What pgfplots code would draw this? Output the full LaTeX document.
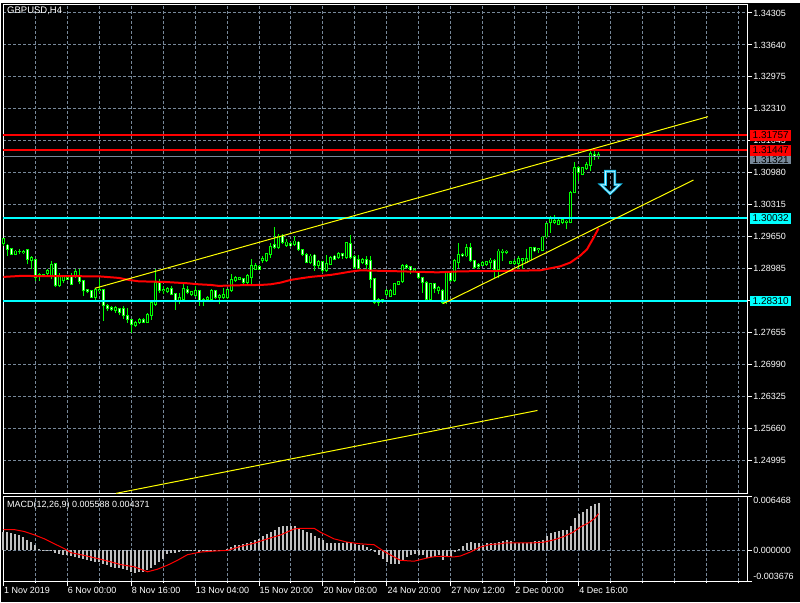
\documentclass[border=0pt]{standalone}
\usepackage{fontspec}
\setmainfont{Liberation Sans}
\usepackage{pgfplots}
\usepackage{pgfplotstable}
\pgfplotsset{compat=1.18}
\definecolor{mtgrid}{RGB}{119,136,153}
\definecolor{mtgreen}{RGB}{0,255,0}
\definecolor{mtsilver}{RGB}{192,192,192}
\definecolor{mtcyan}{RGB}{0,255,255}
\definecolor{mtred}{RGB}{255,0,0}
\definecolor{mtyellow}{RGB}{255,255,0}
\definecolor{arrowout}{RGB}{20,190,235}
\definecolor{arrowin}{RGB}{200,245,255}
\newcommand\lab{\fontsize{9}{10.8}\selectfont}
\newcommand\boxlab{\fontsize{10}{12}\selectfont}

\pgfdeclareplotmark{dnarrow}{%
 \pgfpathmoveto{\pgfpoint{-4.7pt}{11.2pt}}%
 \pgfpathlineto{\pgfpoint{4.7pt}{11.2pt}}%
 \pgfpathlineto{\pgfpoint{4.7pt}{-2.2pt}}%
 \pgfpathlineto{\pgfpoint{9.4pt}{-2.2pt}}%
 \pgfpathlineto{\pgfpoint{0pt}{-11.2pt}}%
 \pgfpathlineto{\pgfpoint{-9.4pt}{-2.2pt}}%
 \pgfpathlineto{\pgfpoint{-4.7pt}{-2.2pt}}%
 \pgfpathclose
 \pgfusepathqstroke}

\pgfplotstableread{
i lo bl bh hi t
0 1.29456 1.29512 1.29608 1.29629 0
1 1.29248 1.29387 1.29477 1.29491 1
2 1.29269 1.29283 1.29401 1.29421 1
3 1.29262 1.29283 1.29352 1.29373 0
4 1.29283 1.29331 1.29345 1.29401 0
5 1.29283 1.29318 1.29345 1.29373 0
6 1.29075 1.29179 1.29387 1.29401 1
7 1.28971 1.29158 1.29214 1.29248 0
8 1.28729 1.28798 1.29179 1.29193 1
9 1.28729 1.28833 1.28867 1.28902 0
10 1.28812 1.28833 1.28867 1.28881 1
11 1.28853 1.28888 1.28950 1.28971 0
12 1.28763 1.28833 1.29075 1.29145 0
13 1.28611 1.28625 1.29096 1.29110 1
14 1.28611 1.28625 1.28833 1.28902 0
15 1.28694 1.28729 1.28819 1.28847 0
16 1.28743 1.28763 1.28798 1.28833 1
17 1.28639 1.28660 1.28833 1.28902 1
18 1.28798 1.28833 1.28916 1.28971 0
19 1.28660 1.28715 1.28833 1.28971 1
20 1.28417 1.28521 1.28729 1.28750 1
21 1.28472 1.28507 1.28542 1.28569 1
22 1.28369 1.28382 1.28521 1.28542 1
23 1.28313 1.28382 1.28556 1.28590 0
24 1.28486 1.28521 1.28556 1.28763 0
25 1.27897 1.28209 1.28542 1.28556 1
26 1.28105 1.28154 1.28223 1.28244 1
27 1.28105 1.28126 1.28175 1.28209 1
28 1.28071 1.28105 1.28175 1.28209 0
29 1.28015 1.28071 1.28154 1.28175 1
30 1.27932 1.28001 1.28154 1.28209 1
31 1.27863 1.27918 1.28001 1.28175 1
32 1.27655 1.27814 1.27918 1.27946 1
33 1.27780 1.27807 1.27863 1.27891 0
34 1.27842 1.27863 1.27932 1.27960 0
35 1.27849 1.27863 1.27932 1.27960 1
36 1.27849 1.27863 1.28036 1.28071 0
37 1.27918 1.28015 1.28278 1.28292 0
38 1.28209 1.28244 1.28694 1.28971 0
39 1.28486 1.28521 1.28694 1.28763 1
40 1.28452 1.28521 1.28556 1.28625 0
41 1.28472 1.28500 1.28576 1.28604 0
42 1.28431 1.28452 1.28569 1.28625 1
43 1.28126 1.28313 1.28466 1.28486 1
44 1.28244 1.28313 1.28382 1.28486 0
45 1.28334 1.28348 1.28569 1.28660 0
46 1.28452 1.28486 1.28556 1.28625 1
47 1.28417 1.28438 1.28500 1.28521 0
48 1.28403 1.28417 1.28521 1.28625 0
49 1.28209 1.28313 1.28521 1.28535 1
50 1.28209 1.28313 1.28348 1.28376 0
51 1.28313 1.28334 1.28382 1.28417 0
52 1.28334 1.28348 1.28521 1.28556 0
53 1.28362 1.28382 1.28521 1.28535 1
54 1.28244 1.28382 1.28431 1.28452 0
55 1.28362 1.28382 1.28452 1.28590 0
56 1.28362 1.28382 1.28542 1.28556 0
57 1.28500 1.28521 1.28763 1.28867 0
58 1.28708 1.28729 1.28798 1.28833 0
59 1.28743 1.28763 1.28798 1.28819 0
60 1.28673 1.28694 1.28777 1.28798 1
61 1.28660 1.28694 1.28833 1.28867 0
62 1.28660 1.28798 1.29041 1.29179 0
63 1.28950 1.28971 1.29041 1.29110 0
64 1.28950 1.28971 1.29027 1.29054 1
65 1.29110 1.29145 1.29193 1.29248 0
66 1.29124 1.29145 1.29304 1.29318 0
67 1.29214 1.29283 1.29442 1.29525 0
68 1.29387 1.29421 1.29491 1.29858 1
69 1.29387 1.29421 1.29664 1.29699 0
70 1.29505 1.29525 1.29664 1.29699 1
71 1.29442 1.29470 1.29539 1.29595 0
72 1.29442 1.29456 1.29512 1.29539 1
73 1.29456 1.29491 1.29560 1.29664 0
74 1.29352 1.29387 1.29539 1.29560 1
75 1.29248 1.29283 1.29387 1.29401 1
76 1.29096 1.29110 1.29283 1.29304 1
77 1.29075 1.29110 1.29248 1.29283 0
78 1.28937 1.29041 1.29269 1.29283 1
79 1.29006 1.29054 1.29124 1.29165 0
80 1.28902 1.28937 1.29124 1.29145 1
81 1.28916 1.28937 1.29096 1.29262 0
82 1.29054 1.29075 1.29214 1.29248 0
83 1.29158 1.29179 1.29248 1.29269 1
84 1.29193 1.29214 1.29304 1.29331 0
85 1.29193 1.29248 1.29304 1.29318 1
86 1.29193 1.29214 1.29525 1.29539 0
87 1.29193 1.29214 1.29512 1.29692 1
88 1.28971 1.29006 1.29234 1.29262 1
89 1.28971 1.28985 1.29179 1.29276 1
90 1.29075 1.29110 1.29179 1.29214 0
91 1.28971 1.29075 1.29179 1.29248 1
92 1.28590 1.28763 1.29145 1.29248 1
93 1.28244 1.28278 1.28777 1.28798 1
94 1.28209 1.28278 1.28334 1.28382 0
95 1.28265 1.28292 1.28334 1.28362 0
96 1.28417 1.28452 1.28521 1.28556 0
97 1.28389 1.28403 1.28521 1.28556 0
98 1.28431 1.28452 1.28673 1.28694 0
99 1.28639 1.28660 1.28708 1.28729 0
100 1.28694 1.28708 1.29054 1.29075 0
101 1.28985 1.29006 1.29054 1.29075 1
102 1.28867 1.28957 1.29020 1.29041 1
103 1.28916 1.28937 1.28971 1.28992 0
104 1.28763 1.28798 1.28902 1.28937 1
105 1.28486 1.28694 1.28798 1.28819 1
106 1.28320 1.28334 1.28694 1.28729 1
107 1.28313 1.28334 1.28673 1.28694 0
108 1.28486 1.28576 1.28673 1.28694 1
109 1.28452 1.28521 1.28590 1.28625 0
110 1.28244 1.28278 1.28521 1.28556 1
111 1.28244 1.28292 1.28916 1.28930 0
112 1.28708 1.28729 1.28916 1.28937 1
113 1.28708 1.28729 1.29145 1.29179 0
114 1.29006 1.29110 1.29283 1.29525 0
115 1.29228 1.29248 1.29283 1.29318 1
116 1.29228 1.29248 1.29421 1.29491 0
117 1.29124 1.29145 1.29421 1.29525 1
118 1.28985 1.29006 1.29145 1.29165 1
119 1.28985 1.29027 1.29075 1.29110 1
120 1.29041 1.29054 1.29110 1.29145 0
121 1.29041 1.29075 1.29124 1.29145 0
122 1.28971 1.29110 1.29165 1.29214 0
123 1.28798 1.28971 1.29145 1.29179 1
124 1.28798 1.28971 1.29352 1.29387 0
125 1.29145 1.29318 1.29352 1.29387 0
126 1.29283 1.29318 1.29352 1.29373 0
127 1.29075 1.29096 1.29124 1.29145 0
128 1.29054 1.29096 1.29124 1.29179 0
129 1.28971 1.29096 1.29193 1.29248 0
130 1.28971 1.29145 1.29193 1.29214 0
131 1.29096 1.29110 1.29193 1.29401 0
132 1.29151 1.29165 1.29415 1.29428 0
133 1.29331 1.29352 1.29421 1.29435 1
134 1.29318 1.29373 1.29401 1.29421 0
135 1.29345 1.29359 1.29643 1.29664 0
136 1.29629 1.29643 1.29927 1.29941 0
137 1.29733 1.29941 1.30045 1.30080 0
138 1.29906 1.29955 1.29996 1.30093 0
139 1.29886 1.29906 1.29996 1.30010 0
140 1.29906 1.29955 1.30010 1.30045 0
141 1.29802 1.29941 1.29976 1.29996 0
142 1.29927 1.29941 1.30564 1.30599 0
143 1.30551 1.30564 1.31084 1.31202 0
144 1.30807 1.30980 1.31084 1.31119 1
145 1.30925 1.30945 1.31084 1.31105 0
146 1.31036 1.31063 1.31153 1.31202 0
147 1.31015 1.31132 1.31375 1.31430 0
148 1.31243 1.31326 1.31361 1.31430 1
149 1.31257 1.31320 1.31361 1.31410 0
}\candles

\pgfplotstableread{
i h
0 0.00224
1 0.00216
2 0.00208
3 0.00196
4 0.00184
5 0.00157
6 0.00129
7 0.00098
8 0.00059
9 0.00020
10 0.00004
11 -0.00004
12 -0.00012
13 -0.00027
14 -0.00039
15 -0.00059
16 -0.00059
17 -0.00067
18 -0.00078
19 -0.00090
20 -0.00098
21 -0.00118
22 -0.00129
23 -0.00137
24 -0.00137
25 -0.00157
26 -0.00176
27 -0.00196
28 -0.00208
29 -0.00208
30 -0.00216
31 -0.00235
32 -0.00255
33 -0.00274
34 -0.00263
35 -0.00255
36 -0.00235
37 -0.00208
38 -0.00176
39 -0.00137
40 -0.00098
41 -0.00039
42 -0.00027
43 -0.00031
44 -0.00020
45 -0.00010
46 -0.00008
47 -0.00012
48 -0.00010
49 -0.00016
50 -0.00010
51 -0.00006
52 -0.00008
53 -0.00006
54 -0.00004
55 -0.00002
56 0.00012
57 0.00039
58 0.00059
59 0.00067
60 0.00078
61 0.00090
62 0.00098
63 0.00118
64 0.00137
65 0.00176
66 0.00196
67 0.00216
68 0.00247
69 0.00274
70 0.00286
71 0.00286
72 0.00286
73 0.00286
74 0.00263
75 0.00247
76 0.00224
77 0.00208
78 0.00176
79 0.00145
80 0.00118
81 0.00090
82 0.00090
83 0.00090
84 0.00090
85 0.00090
86 0.00098
87 0.00090
88 0.00078
89 0.00067
90 0.00059
91 0.00039
92 0.00012
93 -0.00020
94 -0.00059
95 -0.00098
96 -0.00137
97 -0.00157
98 -0.00157
99 -0.00157
100 -0.00118
101 -0.00078
102 -0.00059
103 -0.00039
104 -0.00059
105 -0.00059
106 -0.00090
107 -0.00078
108 -0.00078
109 -0.00059
110 -0.00118
111 -0.00078
112 -0.00078
113 -0.00020
114 0.00020
115 0.00051
116 0.00090
117 0.00098
118 0.00086
119 0.00086
120 0.00059
121 0.00086
122 0.00086
123 0.00086
124 0.00098
125 0.00106
126 0.00118
127 0.00106
128 0.00090
129 0.00090
130 0.00090
131 0.00090
132 0.00098
133 0.00106
134 0.00106
135 0.00129
136 0.00169
137 0.00208
138 0.00216
139 0.00235
140 0.00247
141 0.00247
142 0.00294
143 0.00380
144 0.00431
145 0.00459
146 0.00498
147 0.00529
148 0.00557
149 0.00559
}\macd

\begin{document}
\begin{tikzpicture}
\fill[black] (0pt,0pt) rectangle (800pt,600pt);

\begin{axis}[
  at={(2pt,109pt)}, anchor=south west, scale only axis,
  width=745pt, height=489pt,
  xmin=-0.075, xmax=186.175, ymin=1.24309, ymax=1.34471,
  clip=false,
  axis line style={white, line width=1pt},
  xtick={16,32,...,176}, minor xtick={8,24,...,184}, xticklabels={},
  xtick style={draw=none}, minor x tick style={draw=none},
  ytick={1.24995,1.25660,1.26325,1.26990,1.27655,1.28985,1.29650,1.30315,1.30980,1.31645,1.32310,1.32975,1.33640,1.34305},
  extra y ticks={1.28320}, extra y tick labels={},
  ytick pos=right, yticklabel pos=right, tick align=outside,
  major tick length=5pt,
  ytick style={white, line width=1pt},
  xmajorgrids, xminorgrids, ymajorgrids,
  major grid style={draw=mtgrid, dash pattern=on 3pt off 2pt, line width=1pt},
  minor grid style={draw=mtgrid, dash pattern=on 3pt off 2pt, line width=1pt},
  scaled y ticks=false,
  yticklabel style={white, font=\lab, anchor=west, inner sep=0pt, xshift=1pt,
    /pgf/number format/.cd, fixed, fixed zerofill, precision=5, assume math mode=true},
]
% wicks
\addplot[draw=none, forget plot, error bars/.cd, y dir=plus, y explicit, error mark=none,
  error bar style={draw=mtgreen, line width=1pt}]
  table[x=i, y=lo, y error expr={\thisrow{hi}-\thisrow{lo}}] {\candles};
% body frames
\addplot[draw=none, forget plot, error bars/.cd, y dir=plus, y explicit, error mark=none,
  error bar style={draw=mtgreen, line width=3pt}]
  table[x=i, y expr={\thisrow{bl}-0.0001}, y error expr={\thisrow{bh}-\thisrow{bl}+0.0002}] {\candles};
% bear bodies (white)
\addplot[draw=none, forget plot, restrict expr to domain={\thisrow{t}}{0.5:1.5},
  error bars/.cd, y dir=plus, y explicit, error mark=none,
  error bar style={draw=white, line width=1pt}]
  table[x=i, y expr={\thisrow{bl}+0.0001}, y error expr={max(\thisrow{bh}-\thisrow{bl}-0.0002,0)}] {\candles};
% bull bodies (black)
\addplot[draw=none, forget plot, restrict expr to domain={\thisrow{t}}{-0.5:0.5},
  error bars/.cd, y dir=plus, y explicit, error mark=none,
  error bar style={draw=black, line width=1pt}]
  table[x=i, y expr={\thisrow{bl}+0.0001}, y error expr={max(\thisrow{bh}-\thisrow{bl}-0.0002,0)}] {\candles};

% moving average
\addplot[mtred, line width=2pt] coordinates {
(0,1.28813) (4.2,1.28833) (23.9,1.28825) (28.9,1.28792) (31.4,1.28750) (33.9,1.28721)
(40.2,1.28709) (46.2,1.28680) (48.9,1.28659) (51.9,1.28646) (53.9,1.28626) (58.2,1.28638)
(64.4,1.28646) (66.9,1.28659) (69.4,1.28694) (71.9,1.28750) (74.4,1.28783) (76.9,1.28813)
(79.4,1.28833) (81.9,1.28854) (84.4,1.28887) (86.9,1.28923) (89.4,1.28950) (92.7,1.28943)
(99.4,1.28929) (108.7,1.28908) (114.4,1.28929) (124.4,1.28937) (134.4,1.28950) (139.4,1.29033)
(141.9,1.29110) (144.4,1.29255) (146.1,1.29386) (147.75,1.29629) (149,1.29822)};

% horizontal levels
\addplot[mtred, line width=2pt] coordinates {(-0.075,1.31757) (186.175,1.31757)};
\addplot[mtred, line width=2pt] coordinates {(-0.075,1.31447) (186.175,1.31447)};
\addplot[mtgrid, line width=1pt] coordinates {(-0.075,1.31321) (186.175,1.31321)};
\addplot[mtcyan, line width=2pt] coordinates {(-0.075,1.30032) (186.175,1.30032)};
\addplot[mtcyan, line width=2pt] coordinates {(-0.075,1.28310) (186.175,1.28310)};

% trend lines
\addplot[mtyellow, line width=1pt] coordinates {(22.9,1.28576) (176.4,1.32148)};
\addplot[mtyellow, line width=1pt] coordinates {(110.1,1.28258) (172.75,1.30828)};
\addplot[mtyellow, line width=1pt] coordinates {(28.2,1.24309) (133.7,1.26034)};

% arrow
\addplot[only marks, mark=dnarrow, mark options={draw=arrowout, line width=2.6pt}] coordinates {(151.9,1.30778)};
\addplot[only marks, mark=dnarrow, mark options={draw=arrowin, line width=0.8pt}] coordinates {(151.9,1.30778)};

% price labels
\node[fill=mtgrid, text=black, font=\boxlab, anchor=west, inner sep=0pt, minimum width=41pt, minimum height=9pt] at (axis cs:186.175,1.31321) [xshift=3pt, yshift=-3.6pt] {1.31321};
\node[fill=mtred, text=black, font=\boxlab, anchor=west, inner sep=0pt, minimum width=41pt, minimum height=10.4pt] at (axis cs:186.175,1.31757) [xshift=3pt] {1.31757};
\node[fill=mtred, text=black, font=\boxlab, anchor=west, inner sep=0pt, minimum width=41pt, minimum height=10.4pt] at (axis cs:186.175,1.31447) [xshift=3pt] {1.31447};
\node[fill=mtcyan, text=black, font=\boxlab, anchor=west, inner sep=0pt, minimum width=41pt, minimum height=10.4pt] at (axis cs:186.175,1.30032) [xshift=3pt] {1.30032};
\node[fill=mtcyan, text=black, font=\boxlab, anchor=west, inner sep=0pt, minimum width=41pt, minimum height=10.4pt] at (axis cs:186.175,1.28310) [xshift=3pt] {1.28310};
\end{axis}

\begin{axis}[
  at={(2pt,21pt)}, anchor=south west, scale only axis,
  width=745pt, height=85.3pt,
  xmin=-0.075, xmax=186.175, ymin=-0.003676, ymax=0.006468,
  clip=false,
  axis line style={white, line width=1pt},
  xtick={0,16,...,144},
  minor xtick={8,24,40,56,72,88,104,120,136,152,160,168,176,184},
  xticklabels={1 Nov 2019, 6 Nov 00:00, 8 Nov 16:00, 13 Nov 04:00, 15 Nov 20:00, 20 Nov 08:00, 24 Nov 20:00, 27 Nov 12:00, 2 Dec 00:00, 4 Dec 16:00},
  xtick pos=left, ytick pos=right, tick align=outside,
  major tick length=5pt, minor tick length=2pt,
  xtick style={white, line width=1pt}, minor x tick style={white, line width=1pt},
  ytick={0}, yticklabels={},
  extra y ticks={-0.003676,0.006468}, extra y tick labels={},
  extra y tick style={grid=none},
  ytick style={white, line width=1pt},
  xmajorgrids, xminorgrids, ymajorgrids,
  major grid style={draw=mtgrid, dash pattern=on 3pt off 2pt, line width=1pt},
  minor grid style={draw=mtgrid, dash pattern=on 3pt off 2pt, line width=1pt},
  scaled y ticks=false,
  xticklabel style={white, font=\lab, anchor=north west, inner sep=0pt, xshift=0.5pt, yshift=-0.5pt},
]
\addplot[ycomb, mtsilver, line width=2pt, forget plot] table[x=i, y=h] {\macd};
\addplot[mtred, line width=1pt] coordinates {
(0,0.00247) (2.8,0.00247) (5.3,0.00224) (7.8,0.00184) (10.3,0.00137) (12.8,0.00078)
(15.3,0.00020) (16.9,-0.00027) (19.4,-0.00051) (21.9,-0.00078) (24.4,-0.00106) (26.9,-0.00137)
(29.4,-0.00169) (32.8,-0.00196) (36.1,-0.00255) (38.6,-0.00224) (41.1,-0.00176) (43.6,-0.00118)
(46.1,-0.00051) (49.4,-0.00020) (52.8,-0.00008) (56.1,0) (59.4,0.00047) (62.8,0.00086)
(66.1,0.00137) (69.4,0.00184) (72.8,0.00255) (74.4,0.00263) (77.8,0.00263) (79.4,0.00216)
(82.8,0.00137) (86.1,0.00098) (89.4,0.00078) (92.8,0.00067) (95.3,-0.00012) (97.8,-0.00078)
(99.4,-0.00118) (102.8,-0.00129) (104.4,-0.00110) (106.9,-0.00082) (108.6,-0.00071) (110.3,-0.00071)
(112.8,-0.00078) (114.4,-0.00067) (116.9,-0.00020) (119.4,0.00039) (121.9,0.00071) (124.4,0.00078)
(125.7,0.00090) (132.8,0.00090) (135.3,0.00098) (137.8,0.00125) (140.3,0.00165) (142.6,0.00216)
(144.7,0.00286) (146.3,0.00322) (148,0.00380) (149,0.00437)};
\node[white, font=\lab, anchor=west, inner sep=0pt] at (axis description cs:0,1) [xshift=4pt, yshift=-9pt] {MACD(12,26,9) 0.005588 0.004371};
\node[white, font=\lab, anchor=west, inner sep=0pt] at (axis description cs:1,1) [xshift=6pt, yshift=-4pt] {0.006468};
\node[white, font=\lab, anchor=west, inner sep=0pt] at (axis cs:186.175,0) [xshift=6pt] {0.000000};
\node[white, font=\lab, anchor=west, inner sep=0pt] at (axis description cs:1,0) [xshift=6pt, yshift=5pt] {-0.003676};
\end{axis}

\node[white, font=\fontsize{9.5}{11}\selectfont, anchor=west, inner sep=0pt] at (6pt,591.7pt) {GBPUSD,H4};
\end{tikzpicture}
\end{document}
